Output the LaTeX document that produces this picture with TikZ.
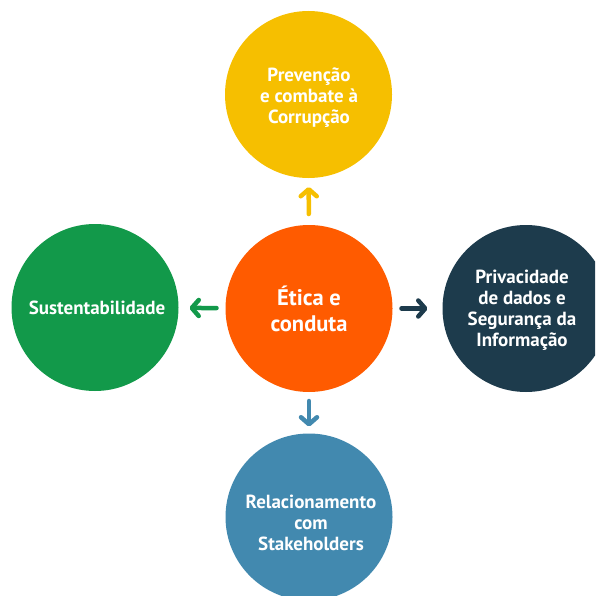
\documentclass[tikz,border=0pt]{standalone}
\usepackage{fontspec}
\setmainfont{PT Sans}
\usetikzlibrary{arrows.meta}
\definecolor{cyellow}{HTML}{F6BF00}
\definecolor{corange}{HTML}{FF5B00}
\definecolor{cgreen}{HTML}{12994A}
\definecolor{cnavy}{HTML}{1D3B4C}
\definecolor{cblue}{HTML}{4289AF}
\begin{document}
\begin{tikzpicture}[x=1pt,y=-1pt,
  bubble/.style={circle,minimum size=167pt,inner sep=0pt,outer sep=0pt},
  btext/.style={text=white,font=\bfseries\fontsize{19}{21}\selectfont,align=center,inner sep=0pt},
  conn/.style={line width=4.5pt,line cap=round,-{Straight Barb[round,length=7pt,width=16pt]}}]
\useasboundingbox (0,0) rectangle (595,596);
\clip (0,0) rectangle (595,596);
\node[bubble,fill=corange] (c) at (309,308.5) {};
\node[bubble,fill=cyellow] (t) at (308.5,94.5) {};
\node[bubble,fill=cgreen] (l) at (95,307.5) {};
\node[bubble,fill=cnavy] (r) at (526,308.5) {};
\node[bubble,fill=cblue] (b) at (309,517) {};
\node[btext,font=\bfseries\fontsize{22.5}{26}\selectfont] (ct) at (309,309) {Ética e\\conduta};
\node[btext] (tt) at (309,98) {Prevenção\\e combate à\\Corrupção};
\node[btext] (lt) at (97,307.5) {Sustentabilidade};
\node[btext] (rt) at (522,310.5) {Privacidade\\de dados e\\Segurança da\\Informação};
\node[btext] (bt) at (311,523) {Relacionamento\\com\\Stakeholders};
\draw[conn,cyellow,shorten <=11pt,shorten >=9pt] (c) -- (t);
\draw[conn,cgreen,shorten <=9pt,shorten >=11pt] (c) -- (l);
\draw[conn,cnavy,shorten <=9pt,shorten >=15pt] (c) -- (r);
\draw[conn,cblue,shorten <=9pt,shorten >=7pt] (c) -- (b);
\end{tikzpicture}
\end{document}
